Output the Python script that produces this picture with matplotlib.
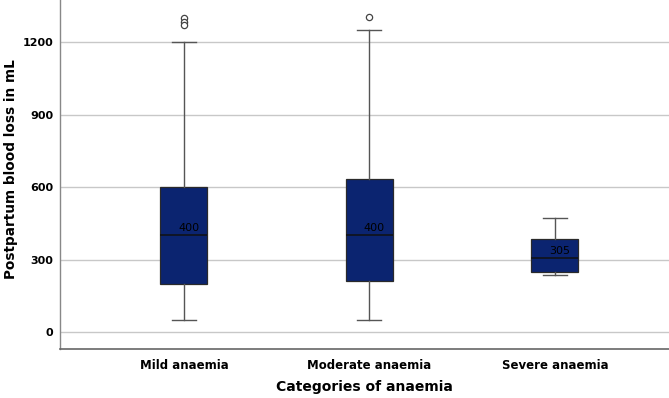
import matplotlib
matplotlib.use("Agg")
import matplotlib.pyplot as plt

categories = ["Mild anaemia", "Moderate anaemia", "Severe anaemia"]
whisker_low = [50, 50, 235]
q1 = [200, 210, 250]
medians = [400, 400, 305]
q3 = [600, 635, 387]
whisker_high = [1200, 1250, 470]
outliers = [[1300, 1285, 1272], [1302], []]
y_ticks = [0, 300, 600, 900, 1200]

stats = []
for i, c in enumerate(categories):
    stats.append(dict(label=c, whislo=whisker_low[i], q1=q1[i], med=medians[i],
                      q3=q3[i], whishi=whisker_high[i], fliers=outliers[i]))

fig = plt.figure(figsize=(6.69, 3.98), dpi=100)
ax = fig.add_axes([60/669, 49/398, 1 - 60/669, 1 - 49/398])

positions = list(range(len(categories)))
ax.bxp(stats, positions=positions, widths=0.253, patch_artist=True,
       boxprops=dict(facecolor="#0b2470", edgecolor="#2a2a2a", linewidth=0.9),
       medianprops=dict(color="#111111", linewidth=1.1),
       whiskerprops=dict(color="#555555", linewidth=1.0),
       capprops=dict(color="#555555", linewidth=1.0),
       capwidths=0.13,
       flierprops=dict(marker="o", markersize=4.5, markerfacecolor="white",
                       markeredgecolor="#444444", markeredgewidth=0.9),
       zorder=3)

for p, m in zip(positions, medians):
    ax.text(p + 0.025, m + 8, f"{m}", ha="center", va="bottom", fontsize=8,
            color="#000000", zorder=4)

ax.set_xlim(-0.668, 2.615)
ax.set_ylim(-70, 1374)
ax.set_yticks(y_ticks)
ax.set_yticklabels([str(t) for t in y_ticks], fontsize=8, fontweight="bold")
ax.set_xticks(positions)
ax.set_xticklabels(categories, fontsize=8.5, fontweight="bold")
ax.tick_params(axis="both", length=0, pad=5)
ax.tick_params(axis="x", pad=7)
ax.yaxis.grid(True, color="#c8c8c8", linewidth=1.0, zorder=0)
ax.set_axisbelow(True)
for s in ["top", "right"]:
    ax.spines[s].set_visible(False)
ax.spines["left"].set_color("#888888")
ax.spines["bottom"].set_color("#666666")
ax.spines["left"].set_linewidth(1.0)
ax.spines["bottom"].set_linewidth(1.2)

ax.set_xlabel("Categories of anaemia", fontsize=10, fontweight="bold", labelpad=6)
ax.set_ylabel("Postpartum blood loss in mL", fontsize=9.8, fontweight="bold")
ax.yaxis.set_label_coords(-0.069, 0.516)

fig.savefig("out.png", dpi=100)
